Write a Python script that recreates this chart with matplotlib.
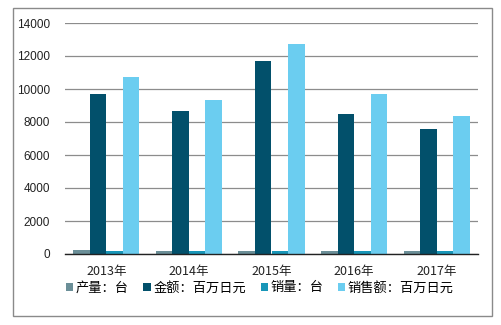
import matplotlib
matplotlib.use("Agg")
import matplotlib.pyplot as plt
import numpy as np
from matplotlib.patches import Rectangle

plt.rcParams['font.family'] = ['Noto Sans CJK SC', 'DejaVu Sans']

categories = ['2013年', '2014年', '2015年', '2016年', '2017年']
series_names = ['产量：台', '金额：百万日元', '销量：台', '销售额：百万日元']
production = [270, 210, 200, 200, 190]
amount = [9700, 8670, 11700, 8490, 7580]
sales_qty = [210, 200, 200, 190, 190]
sales_amount = [10750, 9350, 12730, 9700, 8360]
colors = ['#6B8F98', '#02506B', '#1896B8', '#6BCDF0']
yticks = [0, 2000, 4000, 6000, 8000, 10000, 12000, 14000]

fig = plt.figure(figsize=(5.02, 3.25), dpi=100)
fig.patches.append(Rectangle((13/502, 1-316/325), 479/502, 308/325, transform=fig.transFigure,
                             fill=False, edgecolor='#8a8a8a', linewidth=1.0))
ax = fig.add_axes([65/502, 1-254/325, 413/502, 231/325])

x = np.arange(len(categories))
w = 0.2
data = [production, amount, sales_qty, sales_amount]
for i, (vals, c, n) in enumerate(zip(data, colors, series_names)):
    ax.bar(x + (i - 1.5) * w, vals, width=w, color=c, label=n, zorder=3)

ax.set_xlim(-0.5, len(categories) - 0.5)
ax.set_ylim(0, 14000)
ax.set_yticks(yticks)
ax.set_yticklabels([str(v) for v in yticks], fontsize=8.5, color='#222222', family=['Liberation Sans', 'DejaVu Sans'])
ax.set_xticks(x)
ax.set_xticklabels(categories, fontsize=9, color='#222222')
ax.tick_params(axis='x', length=0, pad=8)
ax.tick_params(axis='y', length=0, pad=11)
ax.grid(axis='y', color='#8c8c8c', linewidth=0.9, zorder=0)
for s in ['left', 'right', 'top']:
    ax.spines[s].set_visible(False)
ax.spines['bottom'].set_color('#222222')
ax.spines['bottom'].set_linewidth(1.0)
ax.spines['bottom'].set_zorder(4)

leg = fig.legend(loc='center', bbox_to_anchor=(260/502, 1-288/325), ncol=4, frameon=False,
                 fontsize=9.5, handlelength=0.55, handleheight=0.55, handletextpad=0.2, columnspacing=1.1)

fig.savefig('out.png', dpi=100)
